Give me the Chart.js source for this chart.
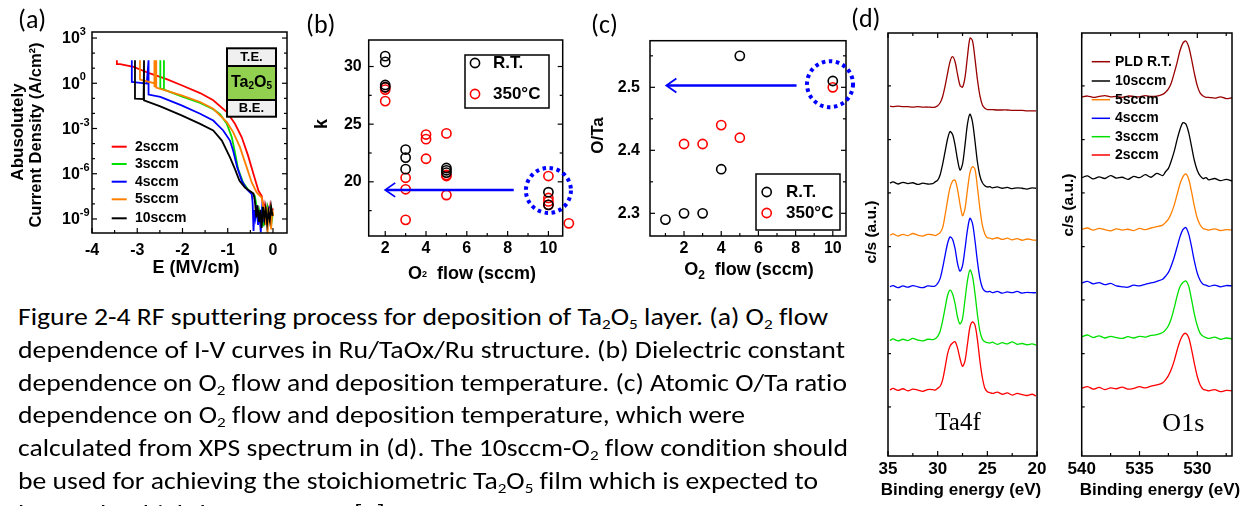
<!DOCTYPE html>
<html>
<head>
<meta charset="utf-8">
<title>Ta2O5 RF sputtering</title>
<script src="https://cdn.jsdelivr.net/npm/chart.js@4.4.1/dist/chart.umd.min.js"></script>
<style>
  html, body { margin: 0; padding: 0; background: #fff; }
  body { width: 1255px; height: 506px; overflow: hidden; position: relative; }
  canvas { position: absolute; }
  .plab { position: absolute; font-family: Carlito, Lato, "Open Sans", sans-serif; font-size: 26px; line-height: 30px; color: #000; white-space: nowrap; }
  .cap { position: absolute; left: 18px; font-family: Carlito, Lato, "Open Sans", sans-serif; font-size: 24px; line-height: 30px; white-space: nowrap; transform-origin: 0 50%; color: #000; font-variant-ligatures: none; font-feature-settings: "liga" 0, "clig" 0, "dlig" 0; }
  .cap sub { font-size: 0.62em; vertical-align: -0.3em; line-height: 0; }
</style>
</head>
<body>
<canvas id="ca" width="300" height="290" style="left:0;top:0"></canvas>
<canvas id="cb" width="290" height="290" style="left:290px;top:0"></canvas>
<canvas id="cc" width="280" height="290" style="left:580px;top:0"></canvas>
<canvas id="cd1" width="205" height="506" style="left:845px;top:0"></canvas>
<canvas id="cd2" width="205" height="506" style="left:1050px;top:0"></canvas>
<div class="plab" style="left:18px;top:4px">(a)</div>
<div class="plab" style="left:306px;top:9px">(b)</div>
<div class="plab" style="left:591px;top:9px">(c)</div>
<div class="plab" style="left:851px;top:3px">(d)</div>
<div id="caption"></div>
<script>
// (a) I-V curves: field in MV/cm, current density as log10(A/cm2)
const aNames = ['2sccm', '3sccm', '4sccm', '5sccm', '10sccm'];
const aColors = ['#ff0000', '#00e000', '#0000ff', '#ff8000', '#000000'];
const a2E = [-3.45, -3.45, -3.38, -3.08, -2.72, -2.35, -2.02, -1.61, -1.32, -1.02, -0.84, -0.69, -0.55, -0.42, -0.32, -0.25, -0.22, -0.2, -0.18, -0.15, -0.12, -0.09, -0.06, -0.03, 0.0];
const a2J = [1.53, 1.27, 1.27, 1.09, 0.65, 0.27, -0.13, -0.65, -1.13, -1.91, -2.69, -3.58, -4.8, -6.13, -7.13, -7.47, -8.0, -8.7, -8.2, -9.0, -8.3, -8.8, -8.1, -8.6, -8.3];
const a3E = [-2.49, -2.49, -2.41, -2.41, -2.41, -2.02, -1.61, -1.32, -1.17, -1.02, -0.91, -0.84, -0.77, -0.66, -0.52, -0.4, -0.36, -0.33, -0.3, -0.27, -0.24, -0.21, -0.18, -0.15, -0.12, -0.09, -0.06, -0.03, 0.0];
const a3J = [1.53, -0.35, -0.4, 1.53, -0.42, -0.87, -1.31, -1.72, -2.05, -2.69, -3.58, -4.58, -5.69, -6.58, -7.18, -7.47, -8.2, -9.3, -8.5, -9.0, -8.2, -9.5, -8.6, -9.1, -8.3, -8.9, -8.4, -9.2, -8.6];
const a4E = [-3.12, -3.12, -2.79, -2.75, -2.75, -2.49, -2.02, -1.61, -1.32, -1.1, -0.95, -0.88, -0.79, -0.69, -0.58, -0.47, -0.45, -0.43, -0.41, -0.39, -0.36, -0.33, -0.3, -0.27, -0.24, -0.2, -0.16, -0.12, -0.08, -0.04];
const a4J = [1.53, 0.09, -0.02, 1.53, -0.75, -0.91, -1.47, -2.02, -2.47, -3.13, -3.8, -4.47, -5.58, -6.47, -7.02, -7.36, -7.9, -9.8, -8.4, -8.9, -8.1, -9.4, -8.6, -9.9, -8.3, -9.0, -8.5, -9.2, -8.4, -8.9];
const a5E = [-2.94, -2.94, -2.62, -2.62, -2.62, -2.58, -2.58, -2.58, -2.02, -1.61, -1.32, -1.02, -0.88, -0.73, -0.58, -0.47, -0.36, -0.25, -0.22, -0.2, -0.18, -0.16, -0.14, -0.12, -0.1, -0.08, -0.06, -0.04, -0.02, 0.0];
const a5J = [1.53, 0.25, 0.0, 1.53, -0.2, -0.25, 1.53, -0.29, -0.8, -1.24, -1.69, -2.58, -3.24, -4.24, -5.58, -6.58, -7.24, -7.58, -8.1, -9.0, -8.4, -9.4, -8.2, -10.0, -8.6, -9.2, -8.3, -9.7, -8.5, -8.8];
const a10E = [-3.05, -3.05, -2.86, -2.85, -2.85, -2.49, -2.02, -1.61, -1.32, -1.13, -0.95, -0.84, -0.74, -0.62, -0.43, -0.4, -0.37, -0.34, -0.31, -0.28, -0.25, -0.22, -0.19, -0.16, -0.13, -0.1, -0.07, -0.04, -0.01];
const a10J = [1.53, -1.02, -1.05, 1.53, -1.13, -1.53, -2.13, -2.69, -3.13, -3.8, -4.91, -5.69, -6.47, -6.91, -7.31, -7.8, -8.9, -8.1, -9.2, -8.4, -9.6, -8.2, -9.0, -8.3, -9.3, -8.5, -9.1, -8.2, -8.8];
const aXTicks = [-4, -3, -2, -1, 0];
const aYExp = [3, 0, -3, -6, -9];

// (b) dielectric constant k vs O2 flow
const bRTFlow = [2, 2, 2, 2, 3, 3, 3, 5, 5, 5, 10, 10];
const bRTk = [30.9, 30.4, 28.4, 28.2, 22.8, 22.1, 21.1, 21.2, 21.0, 20.8, 19.1, 18.0];
const bHTFlow = [2, 2, 2, 3, 3, 3, 4, 4, 4, 5, 5, 5, 5, 10, 10, 10, 10, 11];
const bHTk = [28.2, 28.0, 27.0, 20.35, 19.35, 16.7, 24.1, 23.7, 22.0, 24.2, 20.6, 20.5, 18.85, 20.5, 18.6, 18.3, 18.0, 16.4];
const bXTicks = [2, 4, 6, 8, 10];
const bYTicks = [20, 25, 30];
const bArrow = [[8.3, 19.3], [2.0, 19.3]];
const bCircle = [10, 19.25];

// (c) O/Ta ratio vs O2 flow
const cRTFlow = [1, 2, 3, 4, 5, 10];
const cRTRatio = [2.29, 2.30, 2.30, 2.37, 2.55, 2.51];
const cHTFlow = [2, 3, 4, 5, 10];
const cHTRatio = [2.41, 2.41, 2.44, 2.42, 2.50];
const cXTicks = [2, 4, 6, 8, 10];
const cYTicks = [2.3, 2.4, 2.5];
const cArrow = [[8.05, 2.503], [1.05, 2.503]];
const cCircle = [9.85, 2.505];

// (d) XPS spectra, counts in arbitrary stacked units
const dNames = ['PLD R.T.', '10sccm', '5sccm', '4sccm', '3sccm', '2sccm'];
const dColors = ['#990000', '#000000', '#ff8000', '#0000ff', '#00e000', '#ff0000'];
const taE = [34.8, 34.5, 34, 33.5, 33, 32.5, 32, 31.5, 31, 30.5, 30.25, 30, 29.75, 29.5, 29.25, 29, 28.75, 28.5, 28.25, 28, 27.75, 27.5, 27.25, 27, 26.75, 26.5, 26.25, 26, 25.75, 25.5, 25.25, 25, 24.75, 24.5, 24, 23.5, 23, 22.5, 22, 21.5, 21, 20.5, 20.1];
const taPLD = [82.7, 82.6, 82.7, 82.6, 82.6, 82.5, 82.6, 82.5, 82.5, 82.4, 82.5, 82.8, 83.5, 85.0, 87.5, 90.5, 93.3, 94.4, 93.2, 90.2, 87.6, 87.2, 89.5, 94.5, 98.8, 98.2, 94.0, 89.0, 85.2, 83.0, 82.2, 81.9, 81.9, 81.9, 81.8, 81.8, 81.8, 81.7, 81.7, 81.7, 81.6, 81.6, 81.6];
const ta10 = [64.5, 64.8, 64.3, 64.7, 64.4, 64.6, 64.2, 64.5, 64.3, 64.4, 64.8, 65.2, 66.5, 69.0, 72.0, 75.0, 76.7, 76.0, 73.5, 70.0, 67.6, 69.0, 73.5, 78.5, 80.8, 79.0, 74.5, 69.5, 66.2, 64.6, 63.9, 63.6, 63.7, 63.4, 63.6, 63.3, 63.5, 63.2, 63.4, 63.3, 63.1, 63.4, 63.3];
const ta5 = [52.2, 52.5, 52.0, 52.4, 52.1, 52.6, 52.2, 52.0, 52.4, 52.3, 52.1, 52.4, 52.8, 54.0, 57.0, 60.5, 63.5, 65.0, 65.2, 63.0, 59.5, 56.8, 58.5, 63.0, 67.0, 68.4, 67.8, 63.5, 58.5, 54.5, 52.5, 51.6, 51.5, 51.3, 51.6, 51.2, 51.5, 51.1, 51.4, 51.0, 51.3, 51.1, 51.0];
const ta4 = [40.0, 40.3, 39.8, 40.2, 39.9, 40.3, 40.0, 39.8, 40.2, 40.1, 40.2, 40.8, 42.0, 44.5, 47.5, 50.3, 51.8, 51.2, 49.0, 45.5, 43.7, 45.0, 49.0, 53.5, 56.2, 55.0, 51.0, 46.0, 42.0, 39.8, 39.0, 38.8, 38.9, 38.6, 38.9, 38.5, 38.8, 38.6, 38.9, 38.5, 38.7, 38.6, 38.6];
const ta3 = [27.3, 27.7, 27.2, 27.6, 27.3, 27.8, 27.4, 27.2, 27.6, 27.5, 27.7, 28.3, 29.5, 32.0, 35.0, 38.0, 39.2, 38.3, 36.0, 32.8, 31.2, 32.5, 37.0, 41.5, 44.0, 42.5, 38.5, 33.5, 29.5, 27.6, 27.0, 26.8, 26.7, 26.9, 26.4, 26.8, 26.5, 27.0, 26.4, 26.6, 26.3, 26.5, 26.2];
const ta2 = [15.6, 16.0, 15.5, 15.9, 15.4, 15.8, 15.6, 15.3, 15.7, 15.7, 15.6, 16.0, 16.5, 18.0, 21.0, 24.2, 26.0, 26.7, 27.0, 25.5, 23.0, 21.2, 22.5, 26.5, 30.5, 31.7, 31.0, 27.5, 22.5, 18.5, 16.0, 15.2, 15.0, 14.8, 15.1, 14.6, 14.9, 14.4, 14.8, 14.5, 14.3, 14.6, 14.2];
const oE = [540, 539.5, 539, 538.5, 538, 537.5, 537, 536.5, 536, 535.5, 535, 534.5, 534, 533.5, 533, 532.75, 532.5, 532.25, 532, 531.75, 531.5, 531.25, 531, 530.75, 530.5, 530.25, 530, 529.75, 529.5, 529.25, 529, 528.5, 528, 527.5, 527];
const oPLD = [84.9, 85.1, 84.8, 85.0, 85.2, 84.9, 85.0, 84.8, 85.1, 85.0, 84.9, 85.2, 85.0, 85.1, 85.5, 86.0, 86.8, 88.2, 90.5, 93.0, 95.8, 97.6, 98.1, 96.8, 93.8, 90.4, 87.5, 85.8, 85.1, 84.8, 84.8, 84.6, 84.9, 84.5, 84.7];
const o10 = [65.8, 66.2, 65.5, 66.0, 65.6, 66.3, 65.7, 65.9, 65.4, 66.1, 65.8, 66.5, 65.9, 66.8, 66.3, 67.2, 68.0, 69.8, 72.0, 74.8, 77.2, 78.8, 78.5, 76.5, 73.2, 69.8, 67.5, 66.2, 65.6, 65.8, 65.3, 65.6, 65.1, 65.4, 65.0];
const o5 = [53.6, 53.9, 53.4, 53.8, 53.5, 53.2, 53.7, 53.4, 53.6, 53.3, 53.8, 53.5, 53.9, 54.2, 54.6, 55.2, 56.0, 57.4, 59.3, 61.8, 64.3, 66.0, 66.7, 65.5, 62.5, 59.0, 56.2, 54.6, 53.8, 53.6, 53.4, 53.7, 53.3, 53.5, 53.4];
const o4 = [40.9, 41.3, 40.7, 41.0, 40.5, 40.8, 40.2, 40.0, 39.9, 40.4, 40.2, 40.6, 40.9, 41.3, 41.8, 42.5, 43.4, 45.0, 47.0, 49.4, 51.8, 53.5, 54.0, 52.5, 49.5, 46.0, 43.2, 41.5, 40.6, 40.4, 40.1, 40.4, 40.0, 40.3, 40.2];
const o3 = [28.2, 28.6, 28.0, 28.4, 27.9, 28.3, 28.0, 27.8, 28.2, 27.9, 28.3, 28.1, 28.5, 28.7, 29.2, 29.8, 30.8, 32.5, 35.0, 37.8, 40.0, 41.0, 41.4, 40.2, 37.0, 33.5, 30.8, 29.0, 28.3, 28.0, 27.8, 28.1, 27.6, 27.9, 27.7];
const o2 = [16.0, 16.4, 15.8, 16.2, 15.7, 16.1, 15.9, 16.3, 15.8, 16.0, 16.4, 16.1, 16.5, 16.8, 17.3, 18.0, 19.0, 20.5, 22.5, 25.0, 27.2, 28.6, 29.0, 28.0, 25.2, 21.8, 18.8, 16.8, 15.8, 15.6, 15.4, 15.7, 15.2, 15.5, 15.4];
const taTicks = [35, 30, 25, 20];
const oTicks = [540, 535, 530];
const dYTicks = [11.6, 24.2, 36.9, 49.5, 62.2, 74.8, 87.5];

const FONT = '"Liberation Sans", Arial, sans-serif';
Chart.defaults.font.family = FONT;
Chart.defaults.font.weight = 'bold';
Chart.defaults.color = '#000';

// fixed-size axis so the plot box lands where the figure has it
function axis(min, max, ticks, fit, o) {
  o = o || {};
  return {
    type: o.type || 'linear', min: min, max: max, reverse: !!o.reverse,
    grid: { display: false, drawTicks: false }, border: { display: false },
    ticks: { display: !!o.labels, font: { size: o.size || 16, weight: 'bold' }, padding: o.pad || 4, color: '#000',
      maxRotation: 0, autoSkip: false, callback: o.fmt || (v => v) },
    afterBuildTicks: s => { s.ticks = ticks.map(v => ({ value: v })); },
    afterFit: s => { if (s.isHorizontal()) s.height = fit; else s.width = fit; }
  };
}

function pts(xs, ys, f) { return xs.map((x, i) => ({ x: x, y: f ? f(ys[i]) : ys[i] })); }

function rich(c, parts, x, y, align, rot, family, color) {
  c.save(); c.translate(x, y); if (rot) c.rotate(rot);
  c.textBaseline = 'middle'; c.textAlign = 'left'; c.fillStyle = color || '#000';
  const fnt = p => (p[3] || 'bold') + ' ' + p[1] + 'px ' + (family || FONT);
  let w = 0;
  parts.forEach(p => { c.font = fnt(p); w += c.measureText(p[0]).width; });
  let cx = align === 'center' ? -w / 2 : align === 'right' ? -w : 0;
  parts.forEach(p => { c.font = fnt(p); c.fillText(p[0], cx, p[2] || 0); cx += c.measureText(p[0]).width; });
  c.restore();
}

// box plus inward tick marks
function frame(chart, t) {
  const c = chart.ctx, a = chart.chartArea, X = chart.scales.x, Y = chart.scales.y;
  c.save(); c.strokeStyle = '#000'; c.lineWidth = 1.5;
  c.strokeRect(a.left, a.top, a.right - a.left, a.bottom - a.top);
  c.lineWidth = 1.2;
  const seg = (x1, y1, x2, y2) => { c.beginPath(); c.moveTo(x1, y1); c.lineTo(x2, y2); c.stroke(); };
  (t.x || []).forEach(([v, len]) => {
    const p = X.getPixelForValue(v);
    seg(p, a.bottom, p, a.bottom - len);
    if (t.top) seg(p, a.top, p, a.top + len);
  });
  (t.y || []).forEach(([v, len]) => {
    const p = Y.getPixelForValue(v);
    seg(a.left, p, a.left + len, p);
    if (t.right) seg(a.right, p, a.right - len, p);
  });
  c.restore();
}

// these two work in canvas pixels (no page offset)
function arrow(c, X, Y, ar) {
  const x1 = X.getPixelForValue(ar[0][0]), y1 = Y.getPixelForValue(ar[0][1]);
  const x2 = X.getPixelForValue(ar[1][0]), y2 = Y.getPixelForValue(ar[1][1]);
  c.save(); c.strokeStyle = '#0000ff'; c.lineWidth = 2.5;
  c.beginPath(); c.moveTo(x1, y1); c.lineTo(x2 + 1, y2); c.stroke();
  c.lineWidth = 1.8;
  c.beginPath(); c.moveTo(x2 + 10, y2 - 7); c.lineTo(x2, y2); c.lineTo(x2 + 10, y2 + 7); c.stroke();
  c.restore();
}

function dotted(c, X, Y, ctr, r) {
  c.save(); c.strokeStyle = '#0000ff'; c.lineWidth = 4; c.setLineDash([3.5, 3.6]);
  c.beginPath(); c.arc(X.getPixelForValue(ctr[0]), Y.getPixelForValue(ctr[1]), r, 0, Math.PI * 2); c.stroke();
  c.restore();
}

function ring(c, x, y, col) {
  c.save(); c.strokeStyle = col; c.lineWidth = 1.6;
  c.beginPath(); c.arc(x, y, 4.6, 0, Math.PI * 2); c.stroke(); c.restore();
}

function makeChart(id, ox, oy, pad, datasets, xs, ys, ticks, draw, marks) {
  return new Chart(document.getElementById(id), {
    type: 'scatter',
    data: { datasets: datasets },
    options: {
      responsive: false, animation: false, devicePixelRatio: 1, events: [],
      layout: { padding: pad },
      scales: { x: xs, y: ys },
      plugins: { legend: { display: false }, tooltip: { enabled: false } }
    },
    plugins: [{
      id: 'deco', afterDraw(chart) {
        frame(chart, ticks);
        const c = chart.ctx;
        if (marks) marks(c, chart.scales.x, chart.scales.y);
        c.save(); c.translate(-ox, -oy);
        draw(chart, c, chart.scales.x, chart.scales.y);
        c.restore();
      }
    }]
  });
}

const lineSet = (data, col, lw, extra) => Object.assign({ data: data, showLine: true, borderColor: col, borderWidth: lw, pointRadius: 0, fill: false }, extra || {});
const ringSet = (data, col) => ({ data: data, showLine: false, pointRadius: 4.6, pointBorderWidth: 1.6, borderColor: col, backgroundColor: 'rgba(0,0,0,0)', pointStyle: 'circle', clip: false });

// ---------- (a)
const aData = [[a2E, a2J], [a3E, a3J], [a4E, a4J], [a5E, a5J], [a10E, a10J]];
const aSets = aData.map((d, i) => lineSet(pts(d[0], d[1], v => Math.pow(10, v)), aColors[i], 1.8, { order: 5 - i }));
makeChart('ca', 0, 0, { left: 0, top: 32, right: 13, bottom: 0 }, aSets,
  axis(-4, 0.31, aXTicks, 57, { labels: true, pad: 8 }),
  axis(Math.pow(10, -9.93), Math.pow(10, 3.4), aYExp.map(e => Math.pow(10, e)), 92, { type: 'logarithmic' }),
  {
    x: aXTicks.map(v => [v, 5]).concat([-3.5, -2.5, -1.5, -0.5].map(v => [v, 3])),
    y: [3, 2, 1, 0, -1, -2, -3, -4, -5, -6, -7, -8, -9].map(e => [Math.pow(10, e), aYExp.indexOf(e) >= 0 ? 5 : 3]),
    right: true
  },
  (ch, c, X, Y) => {
    aYExp.forEach(e => rich(c, [['10', 16, 0], [String(e), 11, -7]], 62, Y.getPixelForValue(Math.pow(10, e)) + 1, 'left'));
    rich(c, [['E (MV/cm)', 18]], 196, 268, 'center');
    rich(c, [['Abusolutely', 17]], 18.5, 132, 'center', -Math.PI / 2);
    rich(c, [['Current Density (A/cm\u00b2)', 16.5]], 36.5, 135, 'center', -Math.PI / 2);
    const ly = [146.7, 164, 181.7, 199.3, 218.3];
    aNames.forEach((n, i) => {
      c.save(); c.strokeStyle = aColors[i]; c.lineWidth = 2;
      c.beginPath(); c.moveTo(111.7, ly[i]); c.lineTo(126.7, ly[i]); c.stroke(); c.restore();
      rich(c, [[n, 14]], 135, ly[i], 'left');
    });
    // device stack inset
    c.save(); c.lineWidth = 2; c.strokeStyle = '#000';
    [[48.3, 17.7, '#f0f0f0'], [66, 34, '#92d050'], [100, 16.7, '#f0f0f0']].forEach(b => {
      c.fillStyle = b[2]; c.fillRect(227, b[0], 49, b[1]); c.strokeRect(227, b[0], 49, b[1]);
    });
    c.restore();
    rich(c, [['T.E.', 13]], 251.5, 57.5, 'center');
    rich(c, [['Ta', 16], ['2', 10, 4], ['O', 16], ['5', 10, 4]], 251.5, 82.5, 'center');
    rich(c, [['B.E.', 13]], 251.5, 108.5, 'center');
  });

// ---------- (b)
makeChart('cb', 290, 0, { left: 0, top: 40, right: 17.3, bottom: 0 },
  [ringSet(pts(bRTFlow, bRTk), '#000'), ringSet(pts(bHTFlow, bHTk), '#ff0000')],
  axis(1.19, 10.7, bXTicks, 54, { labels: true, pad: 3 }),
  axis(15.3, 32.3, bYTicks, 78.7, { labels: true, pad: 7 }),
  {
    x: bXTicks.map(v => [v, 5]).concat([3, 5, 7, 9].map(v => [v, 3])),
    y: bYTicks.map(v => [v, 5]).concat([17.5, 22.5, 27.5].map(v => [v, 3])),
    right: true
  },
  (ch, c) => {
    c.save(); c.lineWidth = 1.5; c.strokeStyle = '#000'; c.strokeRect(465, 55, 84, 53); c.restore();
    ring(c, 475, 63, '#000'); rich(c, [['R.T.', 17]], 493, 63, 'left');
    ring(c, 475, 94, '#ff0000'); rich(c, [['350\u00b0C', 17]], 493, 94, 'left');
    rich(c, [['k', 18]], 321.7, 124, 'center', -Math.PI / 2);
    rich(c, [['O', 18], ['2', 9, 1], ['  flow (sccm)', 18]], 472, 274, 'center');
  },
  (c, X, Y) => { arrow(c, X, Y, bArrow); dotted(c, X, Y, bCircle, 22.5); });

// ---------- (c)
makeChart('cc', 580, 0, { left: 0, top: 40.7, right: 14, bottom: 0 },
  [ringSet(pts(cRTFlow, cRTRatio), '#000'), ringSet(pts(cHTFlow, cHTRatio), '#ff0000')],
  axis(0.17, 10.71, cXTicks, 54, { labels: true, pad: 3 }),
  axis(2.264, 2.574, cYTicks, 70, { labels: true, pad: 10, fmt: v => v.toFixed(1) }),
  {
    x: cXTicks.map(v => [v, 5]).concat([1, 3, 5, 7, 9].map(v => [v, 3])),
    y: cYTicks.map(v => [v, 5]).concat([2.35, 2.45, 2.55].map(v => [v, 3])),
    right: true
  },
  (ch, c) => {
    c.save(); c.lineWidth = 1.5; c.strokeStyle = '#000'; c.strokeRect(756, 174, 84, 56); c.restore();
    ring(c, 766.7, 192, '#000'); rich(c, [['R.T.', 17]], 786, 192, 'left');
    ring(c, 766.7, 213, '#ff0000'); rich(c, [['350\u00b0C', 17]], 786, 213, 'left');
    rich(c, [['O/Ta', 17]], 598.3, 135.5, 'center', -Math.PI / 2);
    rich(c, [['O', 18], ['2', 12, 5], ['  flow (sccm)', 18]], 749, 270.5, 'center');
  },
  (c, X, Y) => { arrow(c, X, Y, cArrow); dotted(c, X, Y, cCircle, 23); });

// ---------- (d) Ta4f
const taSeries = [taPLD, ta10, ta5, ta4, ta3, ta2];
makeChart('cd1', 845, 0, { left: 0, top: 33, right: 12.3, bottom: 0 },
  taSeries.map((s, i) => lineSet(pts(taE, s), dColors[i], 1.3, { tension: 0.3 })),
  axis(20, 35, taTicks, 50, { labels: true, pad: 3.5, size: 17, reverse: true }),
  axis(0, 100, [], 43, {}),
  {
    x: taTicks.map(v => [v, 5]).concat([32.5, 27.5, 22.5].map(v => [v, 3])),
    y: dYTicks.map(v => [v, 3]), top: true
  },
  (ch, c) => {
    rich(c, [['c/s (a.u.)', 15.5]], 871.5, 232, 'center', -Math.PI / 2);
    rich(c, [['Ta4f', 25, 0, 'normal']], 958, 423, 'center', 0, '"Liberation Serif", "Times New Roman", serif');
    rich(c, [['Binding energy (eV)', 17]], 961, 490, 'center');
  });

// ---------- (d) O1s
const oSeries = [oPLD, o10, o5, o4, o3, o2];
makeChart('cd2', 1050, 0, { left: 0, top: 33, right: 23, bottom: 0 },
  oSeries.map((s, i) => lineSet(pts(oE, s), dColors[i], 1.3, { tension: 0.3 })),
  axis(527, 540, oTicks, 50, { labels: true, pad: 3.5, size: 17, reverse: true }),
  axis(0, 100, [], 31.7, {}),
  {
    x: oTicks.map(v => [v, 5]).concat([537.5, 532.5, 527.5].map(v => [v, 3])),
    y: dYTicks.map(v => [v, 3]), top: true
  },
  (ch, c) => {
    rich(c, [['c/s (a.u.)', 15.5]], 1069, 205, 'center', -Math.PI / 2);
    rich(c, [['O1s', 26, 0, 'normal']], 1183.3, 424, 'center', 0, '"Liberation Serif", "Times New Roman", serif');
    rich(c, [['Binding energy (eV)', 17]], 1160, 490, 'center');
    const ly = [61.7, 81, 99.7, 118.3, 136.7, 155];
    dNames.forEach((n, i) => {
      c.save(); c.strokeStyle = dColors[i]; c.lineWidth = 1.5;
      c.beginPath(); c.moveTo(1091.7, ly[i]); c.lineTo(1110, ly[i]); c.stroke(); c.restore();
      rich(c, [[n, 14]], 1115, ly[i], 'left');
    });
  });

// ---------- caption
const capLines = [
  'Figure 2-4 RF sputtering process for deposition of Ta<sub>2</sub>O<sub>5</sub> layer. (a) O<sub>2</sub> flow',
  'dependence of I-V curves in Ru/TaOx/Ru structure. (b) Dielectric constant',
  'dependence on O<sub>2</sub> flow and deposition temperature. (c) Atomic O/Ta ratio',
  'dependence on O<sub>2</sub> flow and deposition temperature, which were',
  'calculated from XPS spectrum in (d). The 10sccm-O<sub>2</sub> flow condition should',
  'be used for achieving the stoichiometric Ta<sub>2</sub>O<sub>5</sub> film which is expected to',
  'be used as high-k component [3].'
];
const capRight = [828, 845, 847, 745, 848, 818, null];
const cap = document.getElementById('caption');
let scales = [];
capLines.forEach((t, i) => {
  const d = document.createElement('div');
  d.className = 'cap'; d.innerHTML = t; d.style.top = (317 + 32.8 * i - 15) + 'px';
  cap.appendChild(d);
  const w = d.getBoundingClientRect().width;
  const s = capRight[i] ? (capRight[i] - 18) / w : null;
  if (s) scales.push(s);
  d.dataset.s = s || '';
});
const avg = scales.reduce((p, q) => p + q, 0) / scales.length;
cap.querySelectorAll('.cap').forEach(d => { d.style.transform = 'scaleX(' + (d.dataset.s || avg) + ')'; });
</script>
</body>
</html>
